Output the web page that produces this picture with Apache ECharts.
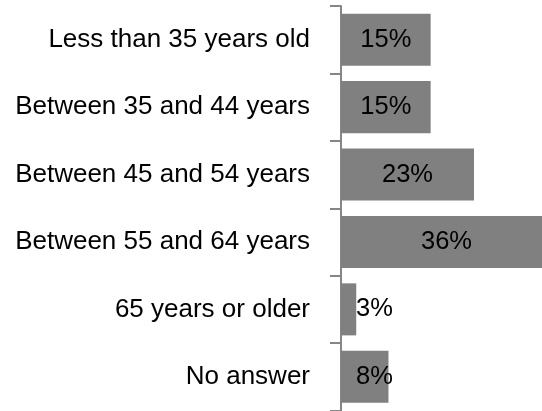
<!DOCTYPE html>
<html>
<head>
<meta charset="utf-8">
<script src="https://cdn.jsdelivr.net/npm/echarts@6/dist/echarts.min.js"></script>
<style>
html,body{margin:0;padding:0;background:#fff;}
#chart{width:542px;height:411px;}
</style>
</head>
<body>
<div id="chart"></div>
<script>
var categories = ["Less than 35 years old", "Between 35 and 44 years", "Between 45 and 54 years", "Between 55 and 64 years", "65 years or older", "No answer"];
var values = [15.3, 15.3, 22.7, 36.0, 2.6, 8.1];

var chart = echarts.init(document.getElementById('chart'), null, {renderer: 'canvas'});
var FONT = '"Liberation Sans", Arial, sans-serif';

var seriesData = values.map(function (v) {
  var item = {value: v};
  if (v < 10) {
    item.label = {position: [15, '50%'], align: 'left', verticalAlign: 'middle'};
  }
  return item;
});

chart.setOption({
  animation: false,
  backgroundColor: '#ffffff',
  grid: {left: 341, top: 6, right: 0, height: 404.5, containLabel: false},
  xAxis: {
    type: 'value', min: 0, max: 34.3, show: false
  },
  yAxis: {
    type: 'category',
    data: categories,
    inverse: true,
    axisLine: {show: true, lineStyle: {color: '#868686', width: 2}},
    axisTick: {show: true, length: 11, lineStyle: {color: '#868686', width: 2}},
    axisLabel: {
      margin: 31, color: '#000', fontSize: 26, fontFamily: FONT
    },
    splitLine: {show: false}
  },
  series: [{
    type: 'bar',
    data: seriesData,
    barCategoryGap: '22.8%',
    clip: false,
    itemStyle: {color: '#808080'},
    label: {
      show: true,
      position: 'inside',
      color: '#000',
      fontSize: 25.5,
      fontFamily: FONT,
      formatter: function (p) { return Math.round(p.value) + '%'; }
    }
  }]
});
</script>
</body>
</html>
